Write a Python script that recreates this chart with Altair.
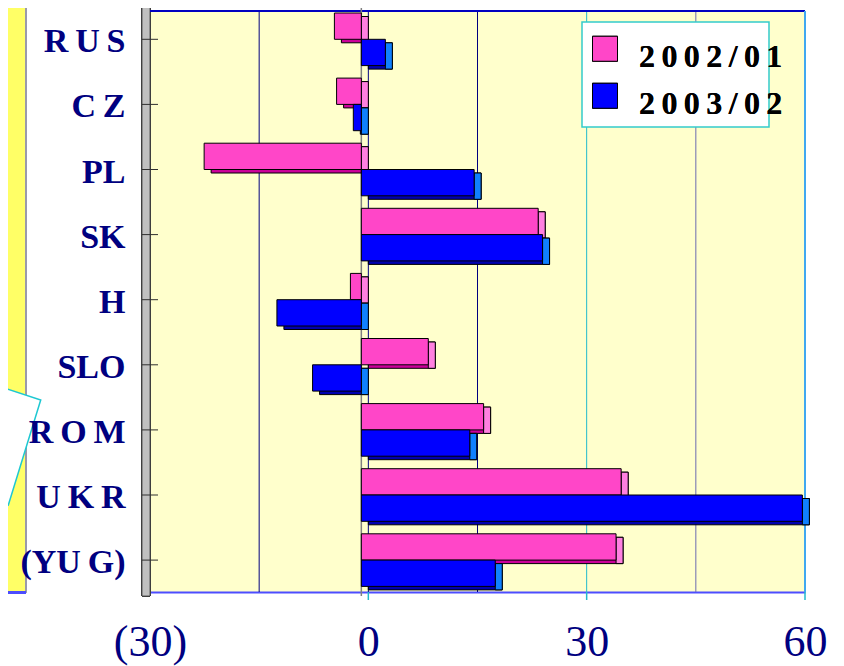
import altair as alt
import pandas as pd

CATEGORIES = ["RUS", "CZ", "PL", "SK", "H", "SLO", "ROM", "UKR", "(YUG)"]
SERIES = ["2002/01", "2003/02"]
VALUES_2002_01 = [-3.7, -3.4, -21.6, 24.3, -1.5, 9.2, 16.8, 35.7, 35.0]
VALUES_2003_02 = [3.3, -1.1, 15.5, 24.9, -11.6, -6.7, 14.9, 60.6, 18.4]
X_TICKS = [-30, -15, 0, 15, 30, 45, 60]

rows = []
for s, vals in zip(SERIES, [VALUES_2002_01, VALUES_2003_02]):
    for c, v in zip(CATEGORIES, vals):
        rows.append({"country": c, "series": s, "value": v})
df = pd.DataFrame(rows)
grid_df = pd.DataFrame({"v": X_TICKS})

W, H = 655, 581
DX, DY = 7, 3.5
BAR_H = 26.3
HALF = BAR_H / 2

PINK, PINK_SIDE, PINK_DARK = "#FF46C8", "#FF80E0", "#CC0099"
BLUE, BLUE_SIDE, BLUE_DARK = "#0000FF", "#1080FF", "#0000B0"
NAVY = "#000080"
SERIF = "Liberation Serif"
GRID_COLORS = ["#000080", "#000080", "#000080", "#000080", "#22BBCC", "#6C6CB0", "#40A8F0"]
TS = "\u2009"

x_scale = alt.Scale(domain=[-30, 60], nice=False, zero=False)
y_scale = alt.Scale(domain=CATEGORIES, range=[-4.25, 581.65], paddingInner=0, paddingOuter=0)

X_AXIS = alt.Axis(
    values=X_TICKS, title=None, grid=False, ticks=False,
    domainColor="#4D4DFF", domainWidth=2,
    labelExpr="datum.value % 30 != 0 ? '' : (datum.value < 0 ? '(' + (-datum.value) + ')' : datum.label)",
    labelFont=SERIF, labelFontSize=44, labelColor=NAVY, labelBaseline="alphabetic",
    labelPadding=63, labelFlush=False, labelOverlap=False, labelBound=False,
)
Y_AXIS = alt.Axis(
    title=None, domain=False, ticks=False, grid=False, labelFont=SERIF, labelFontSize=34,
    labelFontWeight="bold", labelColor=NAVY, labelPadding=25, labelAlign="right", zindex=1,
    labelOffset=3,
    labelExpr=("indexof(['RUS','CZ','ROM','UKR'], datum.label) >= 0 ? join(split(datum.label, ''), '" + TS + "')"
               " : replace(datum.label, 'UG', 'U" + TS + "G')"),
    labelLimit=300,
)
LEGEND = alt.Legend(
    orient="none", legendX=439, legendY=30, title=None,
    symbolType="M-1,-1.66H1V0.34H-1Z", symbolSize=625, symbolStrokeColor="black",
    symbolStrokeWidth=1, symbolOpacity=1, labelFont=SERIF, labelFontSize=32,
    labelFontWeight="bold", labelColor="black", labelOffset=18, rowPadding=8, padding=0,
    labelExpr="join(split(datum.label, ''), '" + TS + "')", labelLimit=300,
)

base = alt.Chart(df)
X = alt.X("value:Q", scale=x_scale, axis=X_AXIS)
X0 = alt.X2(datum=0)
Y = alt.Y("country:N", scale=y_scale, axis=Y_AXIS, sort=CATEGORIES)


def offs(series):
    return -HALF if series == SERIES[0] else HALF


layers = []

# slide decoration: yellow strip and tilted box at the left
layers.append(alt.Chart(df).mark_rect(fill="#FFFF66", strokeWidth=0).encode(
    x=alt.value(-150), x2=alt.value(-124.3), y=alt.value(-11), y2=alt.value(581.7)))
layers.append(alt.Chart(df).mark_rule(color="#9999AA", strokeWidth=1).encode(
    x=alt.value(-124.3), y=alt.value(-11), y2=alt.value(581.7)))
layers.append(alt.Chart(df).mark_rule(color="#4D4DFF", strokeWidth=2).encode(
    x=alt.value(-150), x2=alt.value(-124.3), y=alt.value(581.7)))
layers.append(alt.Chart(pd.DataFrame({"k": [0]})).mark_point(
    shape="M1.012,-0.583L0.472,1.167L-1.43,0.545L-0.89,-1.205Z", filled=True, fill="white",
    stroke="#1EC8D2", strokeWidth=1.5, opacity=1, size=14400).encode(
    x=alt.value(-170), y=alt.value(424)))

# gridlines (back wall) and ticks under the axis
layers.append(alt.Chart(grid_df).mark_rule(strokeWidth=1).encode(
    x=alt.X("v:Q", scale=x_scale, axis=X_AXIS),
    y=alt.value(0), y2=alt.value(H),
    color=alt.Color("v:O", scale=alt.Scale(domain=X_TICKS, range=GRID_COLORS), legend=None)))
layers.append(alt.Chart(grid_df).transform_filter("datum.v >= 0 && datum.v % 30 == 0").mark_rule(
    color="#22BBCC", strokeWidth=1.5).encode(
    x=alt.X("v:Q", scale=x_scale, axis=X_AXIS), y=alt.value(H), y2=alt.value(H + 8)))

# 3D wall at left and frame lines
layers.append(alt.Chart(df).mark_rect(fill="#C0C0C0", stroke="#404040", strokeWidth=0.8).encode(
    x=alt.value(-8), x2=alt.value(0), y=alt.value(-4), y2=alt.value(585)))
layers.append(alt.Chart(df).mark_rule(color="#707070", strokeWidth=1).encode(
    x=alt.value(-8), x2=alt.value(W + 3), y=alt.value(-4)))
layers.append(alt.Chart(df).mark_rule(color="#0000C0", strokeWidth=1.5).encode(
    x=alt.value(0), x2=alt.value(W), y=alt.value(0)))
layers.append(alt.Chart(df).mark_rule(color="#40A8F0", strokeWidth=1.5).encode(
    x=alt.value(W), y=alt.value(0), y2=alt.value(H)))
layers.append(alt.Chart(pd.DataFrame({"v": [0]})).mark_rule(color="#808080", strokeWidth=1.5, xOffset=-DX).encode(
    x=alt.X("v:Q", scale=x_scale, axis=X_AXIS), y=alt.value(-4), y2=alt.value(585)))

# shadows (bottom faces) and side faces
for s, dark, side in [(SERIES[0], PINK_DARK, PINK_SIDE), (SERIES[1], BLUE_DARK, BLUE_SIDE)]:
    o = offs(s) + DY
    layers.append(base.transform_filter(alt.datum.series == s).mark_bar(
        height=BAR_H, fill=dark, stroke="black", strokeWidth=1, yOffset=o, y2Offset=o).encode(
        x=X, x2=X0, y=Y))
    layers.append(base.transform_filter(alt.datum.series == s).transform_calculate(
        end="max(datum.value, 0)").mark_bar(
        height=BAR_H, fill=side, stroke="black", strokeWidth=1, xOffset=-DX, x2Offset=0,
        yOffset=o, y2Offset=o).encode(
        x=alt.X("end:Q", scale=x_scale, axis=X_AXIS), x2=alt.X2("end:Q"), y=Y))

# front faces
for s in SERIES:
    o = offs(s)
    layers.append(base.transform_filter(alt.datum.series == s).mark_bar(
        height=BAR_H, stroke="black", strokeWidth=1, opacity=1,
        xOffset=-DX, x2Offset=-DX, yOffset=o, y2Offset=o).encode(
        x=X, x2=X0, y=Y,
        color=alt.Color("series:N", scale=alt.Scale(domain=SERIES, range=[PINK, BLUE]), legend=LEGEND)))

# ticks on the wall
layers.append(alt.Chart(pd.DataFrame({"country": CATEGORIES})).mark_rule(color="#303030", strokeWidth=1).encode(
    y=alt.Y("country:N", scale=y_scale, axis=Y_AXIS, sort=CATEGORIES, bandPosition=0.5),
    x=alt.value(-8), x2=alt.value(8)))

# legend box
layers.append(alt.Chart(pd.DataFrame({"k": [0]})).mark_rect(fill="white", stroke="#33CCCC", strokeWidth=1.5).encode(
    x=alt.value(432), x2=alt.value(619), y=alt.value(11), y2=alt.value(116)))

chart = alt.layer(*layers).resolve_scale(color="independent").properties(
    width=W, height=H,
    padding={"left": 142, "top": 3, "right": 30, "bottom": 74},
    autosize=alt.AutoSizeParams(type="none"),
).configure_view(fill="#FFFFCC", stroke="transparent")

chart.save("out.html", embed_options={"renderer": "svg", "actions": False})
